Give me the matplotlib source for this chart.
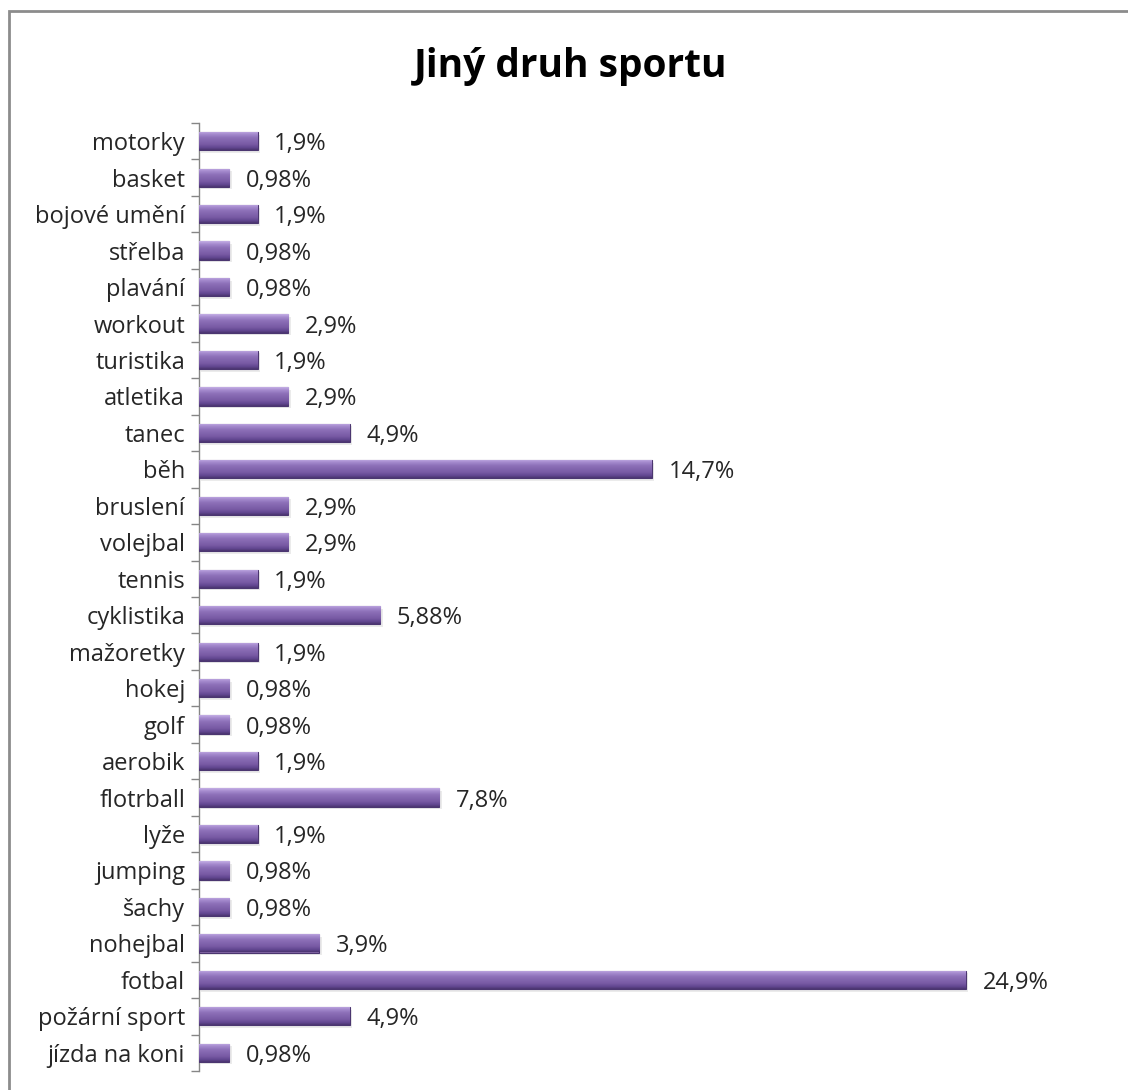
import matplotlib
matplotlib.use("Agg")
import matplotlib.pyplot as plt
import numpy as np
from matplotlib.colors import LinearSegmentedColormap
from matplotlib.patches import Rectangle

# ===== DONNEES ===== #
sporty = ["motorky", "basket", "bojové umění", "střelba", "plavání", "workout",
          "turistika", "atletika", "tanec", "běh", "bruslení", "volejbal",
          "tennis", "cyklistika", "mažoretky", "hokej", "golf", "aerobik",
          "flotrball", "lyže", "jumping", "šachy", "nohejbal", "fotbal",
          "požární sport", "jízda na koni"]
procenta = [1.9, 0.98, 1.9, 0.98, 0.98, 2.9, 1.9, 2.9, 4.9, 14.7, 2.9, 2.9,
            1.9, 5.88, 1.9, 0.98, 0.98, 1.9, 7.8, 1.9, 0.98, 0.98, 3.9, 24.9,
            4.9, 0.98]
titulek = "Jiný druh sportu"

plt.rcParams['font.family'] = ['Open Sans', 'DejaVu Sans']

W, H = 1128, 1090
fig = plt.figure(figsize=(W / 100, H / 100), dpi=100)
ax = fig.add_axes([199 / W, 1 - 1071 / H, (1123 - 199) / W, (1071 - 123) / H])

y = np.arange(len(sporty))
vyska = 0.5
bars = ax.barh(y, procenta, height=vyska, color="#8064A2",
               edgecolor="#4B3670", linewidth=0.8, zorder=3)

# stin pod sloupci
ax.barh(y + 0.07, procenta, height=vyska, left=0.08, color="#000000",
        alpha=0.08, linewidth=0, zorder=2)

# gradient (3D vzhled)
cmap = LinearSegmentedColormap.from_list("fialova", [
    (0.0, "#C4AEE4"), (0.15, "#A68BCF"), (0.35, "#8D70B8"),
    (0.7, "#785AA4"), (0.88, "#614690"), (1.0, "#4B3570")])
grad = np.linspace(0, 1, 64).reshape(-1, 1)
for b, yi, v in zip(bars, y, procenta):
    im = ax.imshow(grad, cmap=cmap, aspect="auto", origin="upper",
                   extent=(0, v, yi + vyska / 2, yi - vyska / 2), zorder=4,
                   interpolation="bilinear")
    im.set_clip_path(b)

# popisky hodnot
for yi, v in zip(y, procenta):
    txt = f"{v:g}".replace(".", ",") + "%"
    ax.annotate(txt, (v, yi), xytext=(12, 0), textcoords="offset points",
                va="center_baseline", ha="left", fontsize=17, color="#262626")

ax.set_xlim(0, 30)
ax.set_ylim(len(sporty) - 0.5, -0.5)

ax.set_yticks(y)
ax.set_yticklabels(sporty, fontsize=17, color="#262626")
ax.tick_params(axis="y", which="major", length=0, pad=10)
ax.set_yticks(np.arange(len(sporty) + 1) - 0.5, minor=True)
ax.tick_params(axis="y", which="minor", length=6, width=1, color="#868686")
ax.set_xticks([])

for s in ["top", "right", "bottom"]:
    ax.spines[s].set_visible(False)
ax.spines["left"].set_color("#868686")
ax.spines["left"].set_linewidth(1)

fig.text(571 / W, 1 - 67 / H, titulek, ha="center", va="center",
         fontsize=28, fontweight="bold", color="#000000")

# ramecek grafu
fig.patches.append(Rectangle((9 / W, -0.1), 1.2, 1.1 - 11 / H,
                             transform=fig.transFigure, fill=False,
                             edgecolor="#8C8C8C", linewidth=2))

fig.savefig("out.png", dpi=100)
